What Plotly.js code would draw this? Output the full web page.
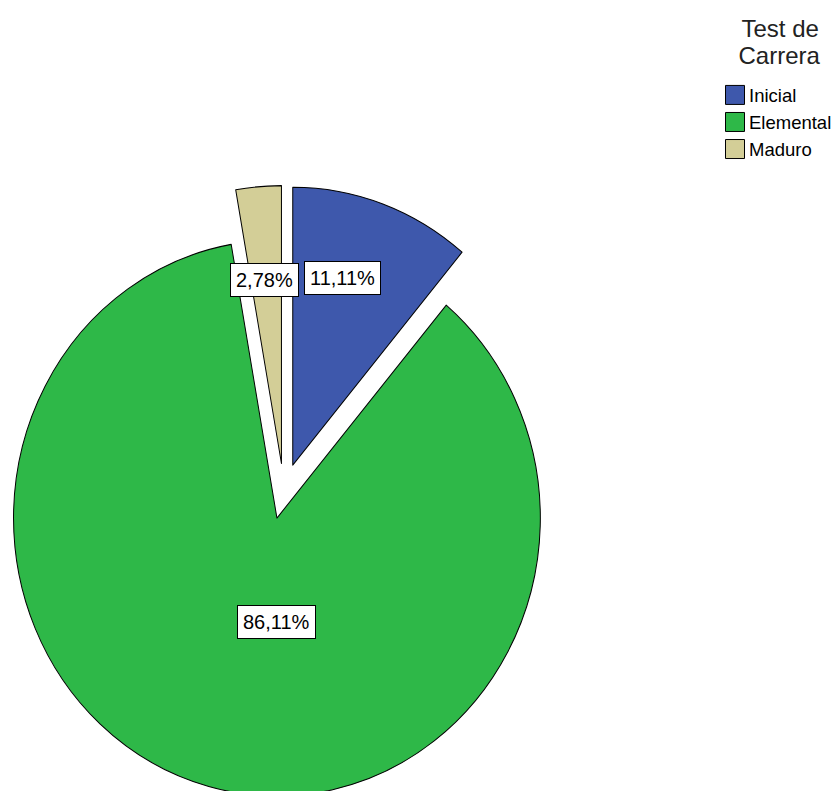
<!DOCTYPE html>
<html><head><meta charset="utf-8">
<script src="https://cdn.plot.ly/plotly-3.0.1.min.js"></script>
<style>
html,body{margin:0;padding:0;overflow:hidden;background:#fff;width:839px;height:791px;}
#chart{position:absolute;left:-6px;top:0;width:845px;height:791px;}
</style>
</head><body><div id="chart"></div>
<script>
// ---- data ----
const categories = ['Inicial', 'Elemental', 'Maduro'];
const counts = [4, 31, 1];
const legendTitle = 'Test de<br>Carrera';

// ---- style ----
const colors = ['#3E58AC', '#2EB848', '#D3CE97'];
const pulls = [0.1, 0.1, 0.1];
const labelR = [0.70, 0.373, 0.664];
const labelShiftDeg = [-4.4, -15, -0.5];
const SY = 1.055;               // vertical stretch of the reference picture
const FONT = 'Liberation Sans, Arial, sans-serif';
const OFFX = 6;                 // div is shifted left by this many px
const W = 845, H = 791;
const dom = {x: [0, 579.5 / W], y: [0.01271, 0.74532]};

const total = counts.reduce((a, b) => a + b, 0);
const pctText = counts.map(v => (100 * v / total).toFixed(2).replace('.', ',') + '%');

// geometry derived from the domain (same rules Plotly uses)
const dw = W * (dom.x[1] - dom.x[0]), dh = H * (dom.y[1] - dom.y[0]);
const maxPull = Math.max(...pulls);
const R = Math.min(dw, dh) / (2 + 2 * maxPull);
const CX = W * (dom.x[0] + dom.x[1]) / 2;
const CY = H * (1 - (dom.y[0] + dom.y[1]) / 2);
let cum = 0;
const annotations = counts.map((v, i) => {
  const mid = (cum + v / 2) / total * 2 * Math.PI;
  cum += v;
  const px = CX + pulls[i] * R * Math.sin(mid);
  const py = CY - pulls[i] * R * Math.cos(mid);
  const a = mid + labelShiftDeg[i] * Math.PI / 180;
  const lx = px + labelR[i] * R * Math.sin(a);
  const ly0 = py - labelR[i] * R * Math.cos(a);
  const ly = CY + SY * (ly0 - CY);
  return {
    xref: 'paper', yref: 'paper', x: lx / W, y: 1 - ly / H,
    xanchor: 'center', yanchor: 'middle', showarrow: false,
    text: pctText[i], bgcolor: '#ffffff', bordercolor: '#000000',
    borderwidth: 1, borderpad: 5,
    font: {family: FONT, size: 20, color: '#000000'}
  };
});

const trace = {
  type: 'pie',
  labels: categories,
  values: counts,
  sort: false,
  direction: 'clockwise',
  rotation: 0,
  pull: pulls,
  textinfo: 'none',
  hoverinfo: 'none',
  marker: {colors: colors, line: {color: '#000000', width: 1}},
  domain: dom
};

const layout = {
  width: W, height: H,
  margin: {l: 0, r: 0, t: 0, b: 0},
  paper_bgcolor: '#ffffff',
  showlegend: true,
  font: {family: FONT, color: '#000000'},
  legend: {
    x: (709 + OFFX) / W, xanchor: 'left', y: 1 - 14 / H, yanchor: 'top',
    title: {text: legendTitle, side: 'top center', font: {family: FONT, size: 24, color: '#222222'}},
    font: {family: FONT, size: 18.5, color: '#000000'},
    bgcolor: 'rgba(0,0,0,0)', traceorder: 'normal'
  },
  annotations: annotations
};

Plotly.newPlot('chart', [trace], layout, {displayModeBar: false, staticPlot: true}).then(gd => {
  // stretch the pie vertically like the reference
  document.querySelectorAll('#chart .pielayer').forEach(g => {
    g.setAttribute('transform', 'translate(0,' + CY + ') scale(1,' + SY + ') translate(0,' + (-CY) + ')');
  });
  // larger legend squares, nudged toward the text
  document.querySelectorAll('#chart .legend .legendpoints path').forEach(p => {
    p.setAttribute('d', 'M15.5,9.5H-3.5V-9.5H15.5Z');
  });
  // legend title: tighter line spacing, centred lines, position
  document.querySelectorAll('#chart .legend .legendtitletext').forEach(t => {
    const lines = t.querySelectorAll('tspan.line');
    lines.forEach((ln, k) => {
      if (k > 0) ln.setAttribute('dy', '1.13em');
      else ln.setAttribute('dx', '3');
    });
    const old = t.getAttribute('transform') || '';
    t.setAttribute('transform', 'translate(6.5,-8) ' + old);
  });
});
</script>
</body></html>
